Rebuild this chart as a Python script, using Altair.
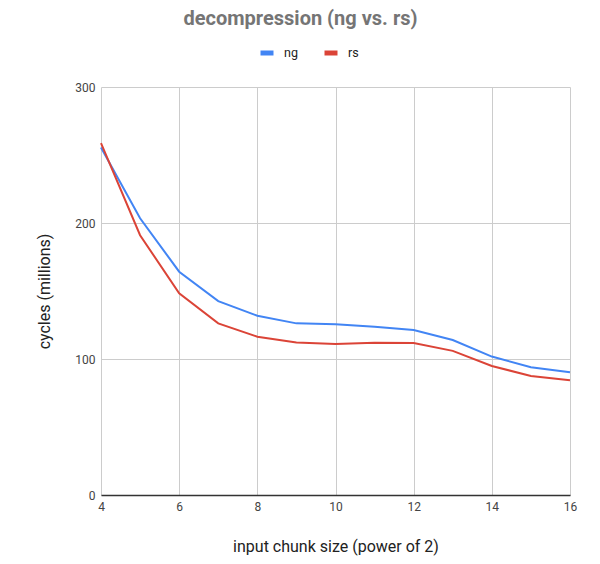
import altair as alt
import pandas as pd

chunk = [4, 5, 6, 7, 8, 9, 10, 11, 12, 13, 14, 15, 16]
ng = [255.5, 203.5, 164.2, 142.6, 131.8, 126.2, 125.5, 123.8, 121.3, 114.0, 101.8, 93.9, 90.2]
rs = [258.8, 191.0, 148.3, 126.2, 116.4, 112.2, 111.0, 112.0, 111.7, 106.0, 94.9, 87.5, 84.3]

rows = []
for i, c in enumerate(chunk):
    rows.append({"chunk": c, "series": "ng", "cycles": ng[i]})
    rows.append({"chunk": c, "series": "rs", "cycles": rs[i]})
df = pd.DataFrame(rows)

chart = alt.Chart(df).mark_line(strokeWidth=2).encode(
    x=alt.X("chunk:Q", title="input chunk size (power of 2)",
            scale=alt.Scale(domain=[4, 16], nice=False, zero=False),
            axis=alt.Axis(values=[4, 6, 8, 10, 12, 14, 16], grid=True, tickSize=0,
                          labelFlush=False, labelPadding=6, titlePadding=26,
                          domainColor="#333333", domainWidth=1.5)),
    y=alt.Y("cycles:Q", title="cycles (millions)",
            scale=alt.Scale(domain=[0, 300], nice=False),
            axis=alt.Axis(values=[0, 100, 200, 300], grid=True, tickSize=0, domain=False,
                          labelPadding=6, titlePadding=22)),
    color=alt.Color("series:N",
                    scale=alt.Scale(domain=["ng", "rs"], range=["#4285F4", "#DB4437"]),
                    legend=alt.Legend(title=None, orient="none", direction="horizontal",
                                      legendX=157, legendY=-43,
                                      symbolType="stroke",
                                      symbolSize=169, symbolStrokeWidth=5,
                                      labelFontSize=12.5, labelColor="#222222",
                                      columnPadding=16, labelOffset=8)),
).properties(
    width=469,
    height=408,
    padding={"left": 93, "top": 79, "right": 22, "bottom": 61},
    autosize=alt.AutoSizeParams(type="none"),
    title=alt.TitleParams("decompression (ng vs. rs)", fontSize=20, fontWeight="bold",
                          color="#757575", anchor="middle", dx=-35, offset=15,
                          font="Roboto"),
).configure(font="Roboto").configure_axis(
    gridColor="#cccccc", gridWidth=1, labelColor="#444444", labelFontSize=12,
    titleColor="#222222", titleFontSize=16, titleFontWeight="normal",
    labelFont="Roboto", titleFont="Roboto"
).configure_view(stroke=None)

chart.save("out.html", embed_options={"renderer": "svg", "actions": False})
